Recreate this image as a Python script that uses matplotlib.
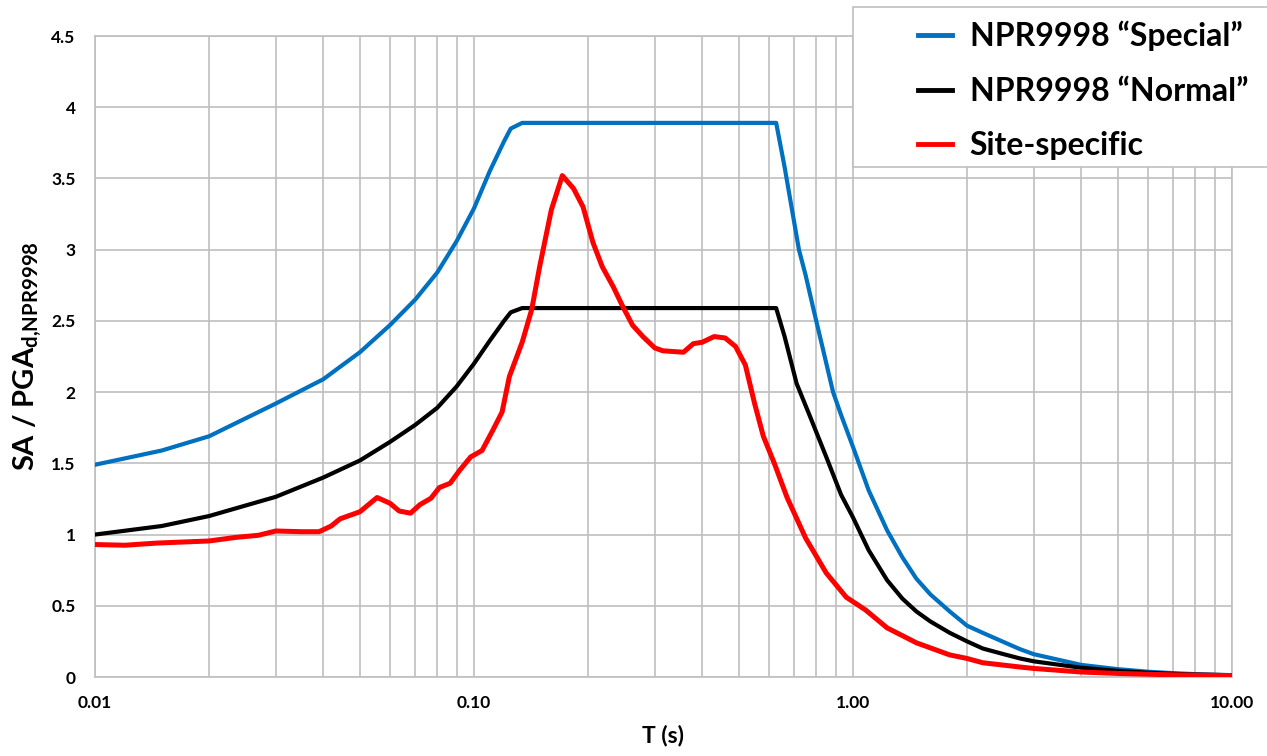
import numpy as np
import matplotlib
matplotlib.use("Agg")
import matplotlib.pyplot as plt
from matplotlib.patches import Rectangle
from matplotlib.ticker import FixedLocator, LogLocator, NullFormatter

plt.rcParams['font.family'] = ['Lato', 'DejaVu Sans']
plt.rcParams['font.weight'] = 'bold'
plt.rcParams['mathtext.fontset'] = 'custom'
plt.rcParams['mathtext.rm'] = 'Lato:bold'
plt.rcParams['mathtext.bf'] = 'Lato:bold'

# NPR9998 "Special" spectrum
t_special = [0.01, 0.015, 0.02, 0.03, 0.04, 0.05, 0.06, 0.07, 0.08, 0.09, 0.1,
             0.11, 0.12, 0.125, 0.134, 0.627, 0.66, 0.72, 0.75, 0.79, 0.83,
             0.886, 0.93, 1.0, 1.1, 1.23, 1.35, 1.47, 1.6, 1.8, 2.0, 2.2, 2.5,
             2.76, 3.0, 4.0, 5.0, 6.0, 7.0, 8.0, 10.0]
sa_special = [1.49, 1.59, 1.69, 1.92, 2.09, 2.28, 2.47, 2.65, 2.84, 3.06, 3.29,
              3.55, 3.76, 3.85, 3.89, 3.89, 3.58, 3.0, 2.82, 2.56, 2.32,
              2.0, 1.84, 1.615, 1.31, 1.03, 0.84, 0.69, 0.58, 0.46, 0.36, 0.31, 0.245,
              0.195, 0.16, 0.085, 0.055, 0.037, 0.027, 0.02, 0.013]

# NPR9998 "Normal" spectrum
t_normal = [0.01, 0.015, 0.02, 0.03, 0.04, 0.05, 0.06, 0.07, 0.08, 0.09, 0.1,
            0.11, 0.12, 0.125, 0.134, 0.627, 0.66, 0.71, 0.77, 0.85, 0.93,
            1.0, 1.1, 1.23, 1.35, 1.47, 1.6, 1.8, 2.0, 2.2, 2.5, 2.76, 3.0,
            4.0, 5.0, 6.0, 7.0, 8.0, 10.0]
sa_normal = [1.0, 1.06, 1.13, 1.265, 1.40, 1.52, 1.65, 1.77, 1.89, 2.04, 2.2,
             2.36, 2.5, 2.56, 2.59, 2.59, 2.39, 2.06, 1.83, 1.545, 1.28,
             1.12, 0.89, 0.68, 0.55, 0.46, 0.39, 0.31, 0.25, 0.20, 0.16, 0.13, 0.11,
             0.065, 0.043, 0.03, 0.022, 0.017, 0.012]

# Site-specific spectrum
t_site = [0.01, 0.012, 0.0145, 0.02, 0.0235, 0.027, 0.03, 0.035, 0.039, 0.042,
          0.0443, 0.05, 0.0555, 0.06, 0.0635, 0.068, 0.072, 0.077, 0.081, 0.0865,
          0.0916, 0.098, 0.105, 0.112, 0.1186, 0.124, 0.134, 0.142, 0.149, 0.160,
          0.171, 0.183, 0.194, 0.206, 0.218, 0.233, 0.247, 0.262, 0.279, 0.30,
          0.315, 0.357, 0.379, 0.40, 0.43, 0.46, 0.49, 0.52, 0.55, 0.58,
          0.62, 0.67, 0.75, 0.85, 0.96, 1.08, 1.23, 1.47, 1.8, 2.0,
          2.2, 2.76, 3.0, 4.0, 5.0, 7.0, 10.0]
sa_site = [0.93, 0.925, 0.94, 0.955, 0.98, 0.995, 1.025, 1.02, 1.02, 1.06,
           1.11, 1.16, 1.26, 1.22, 1.165, 1.15, 1.21, 1.255, 1.33, 1.36,
           1.45, 1.545, 1.59, 1.73, 1.86, 2.11, 2.35, 2.58, 2.88, 3.28,
           3.52, 3.43, 3.30, 3.05, 2.88, 2.74, 2.60, 2.47, 2.39, 2.31,
           2.29, 2.28, 2.34, 2.35, 2.39, 2.38, 2.32, 2.19, 1.92, 1.69,
           1.50, 1.26, 0.975, 0.73, 0.56, 0.47, 0.345, 0.24, 0.155, 0.13,
           0.10, 0.07, 0.06, 0.035, 0.025, 0.015, 0.01]

x_ticks = [0.01, 0.1, 1, 10]
x_ticklabels = ['0.01', '0.10', '1.00', '10.00']
y_ticks = [0, 0.5, 1, 1.5, 2, 2.5, 3, 3.5, 4, 4.5]
y_ticklabels = ['0', '0.5', '1', '1.5', '2', '2.5', '3', '3.5', '4', '4.5']

W, H = 1267, 756
fig = plt.figure(figsize=(W / 100, H / 100), dpi=100)
ax = fig.add_axes([95 / W, 1 - 677 / H, (1232 - 95) / W, (677 - 36) / H])

grid_c = '#bfbfbf'
ax.plot(t_special, sa_special, color='#0070c0', lw=3.0, label='NPR9998 \u201cSpecial\u201d',
        solid_joinstyle='round', zorder=3)
ax.plot(t_normal, sa_normal, color='black', lw=3.0, label='NPR9998 \u201cNormal\u201d',
        solid_joinstyle='round', zorder=3)
ax.plot(t_site, sa_site, color='#ff0000', lw=3.6, label='Site-specific',
        solid_joinstyle='round', zorder=4)

ax.set_xscale('log')
ax.set_xlim(0.01, 10)
ax.set_ylim(0, 4.5)
ax.xaxis.set_major_locator(FixedLocator(x_ticks))
ax.set_xticklabels(x_ticklabels)
ax.xaxis.set_minor_locator(LogLocator(base=10, subs=np.arange(2, 10)))
ax.xaxis.set_minor_formatter(NullFormatter())
ax.set_yticks(y_ticks)
ax.set_yticklabels(y_ticklabels)

ax.grid(True, which='both', axis='x', color=grid_c, lw=1.2)
ax.grid(True, which='major', axis='y', color=grid_c, lw=1.2)
ax.set_axisbelow(True)
for s in ax.spines.values():
    s.set_color(grid_c)
    s.set_linewidth(1.2)

ax.tick_params(which='both', length=0)
ax.tick_params(axis='y', pad=14, labelsize=12.5)
ax.tick_params(axis='x', pad=13, labelsize=12.5)

ax.set_xlabel('T (s)', fontsize=16.5, fontweight='bold', labelpad=10)
ax.set_ylabel(r'SA / PGA$_{\mathrm{d{,}NPR9998}}$', fontsize=21, fontweight='bold', labelpad=5)

# legend box sticking out of the right edge
box = Rectangle((853 / W, 1 - 167 / H), 0.5, 160 / H, transform=fig.transFigure,
                facecolor='white', edgecolor=grid_c, lw=1.2, zorder=5)
fig.add_artist(box)
leg = fig.legend(loc='upper left', bbox_to_anchor=(905 / W, 1 - 8 / H), frameon=False,
                 borderaxespad=0, fontsize=23, handlelength=1.06, handletextpad=0.56,
                 labelspacing=0.8)
leg.set_zorder(6)
for ln in leg.get_lines():
    ln.set_linewidth(3.5)

fig.savefig('out.png', dpi=100)
